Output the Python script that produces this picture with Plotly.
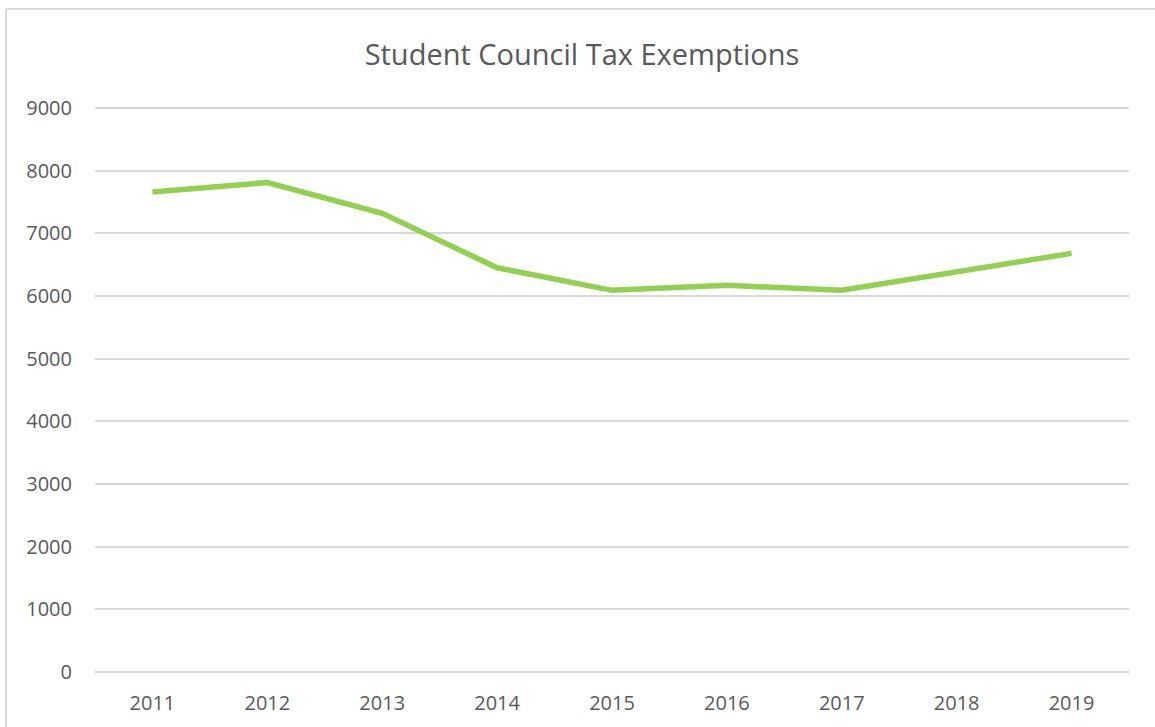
import plotly.graph_objects as go

years = [2011, 2012, 2013, 2014, 2015, 2016, 2017, 2018, 2019]
exemptions = [7660, 7810, 7320, 6450, 6090, 6170, 6090, 6390, 6680]
y_ticks = [0, 1000, 2000, 3000, 4000, 5000, 6000, 7000, 8000, 9000]
title_text = "Student Council Tax Exemptions"

W, H = 1155, 727
ml, mr, mt, mb = 95, 26, 100, 50

fig = go.Figure()
fig.add_trace(go.Scatter(
    x=years, y=exemptions, mode="lines",
    line=dict(color="#92D050", width=5.5),
    hoverinfo="x+y", showlegend=False,
))

pw = W - ml - mr
ph = H - mt - mb
bx = (6 - ml) / pw
by = (H - mb - 9) / ph

fig.update_layout(
    width=W, height=H,
    margin=dict(l=ml, r=mr, t=mt, b=mb),
    paper_bgcolor="white", plot_bgcolor="white",
    title=dict(text=title_text, x=582 / W, xanchor="center", y=1 - 55 / H, yanchor="middle",
               font=dict(family="Open Sans", size=29, color="#595959")),
    font=dict(family="Open Sans", color="#595959"),
    xaxis=dict(range=[2010.5, 2019.5], tickvals=years, ticktext=[str(y) for y in years],
               showgrid=False, zeroline=False, showline=False, ticks="",
               tickfont=dict(size=20, color="#595959"), ticklabelstandoff=12, fixedrange=True),
    yaxis=dict(range=[-80, 9127], tickvals=y_ticks, showgrid=True, gridcolor="#D9D9D9",
               gridwidth=2, zeroline=False, showline=False, ticks="",
               tickfont=dict(size=20, color="#595959"), ticklabelstandoff=22, fixedrange=True),
    shapes=[
        dict(type="line", xref="paper", yref="paper", x0=bx, x1=1.2, y0=by, y1=by,
             line=dict(color="#D9D9D9", width=2)),
        dict(type="line", xref="paper", yref="paper", x0=bx, x1=bx, y0=by, y1=-0.2,
             line=dict(color="#D9D9D9", width=2)),
    ],
)

fig.write_html("out.html", config={"displayModeBar": False},
               post_script="document.body.style.margin='0';document.body.style.overflow='hidden';")
